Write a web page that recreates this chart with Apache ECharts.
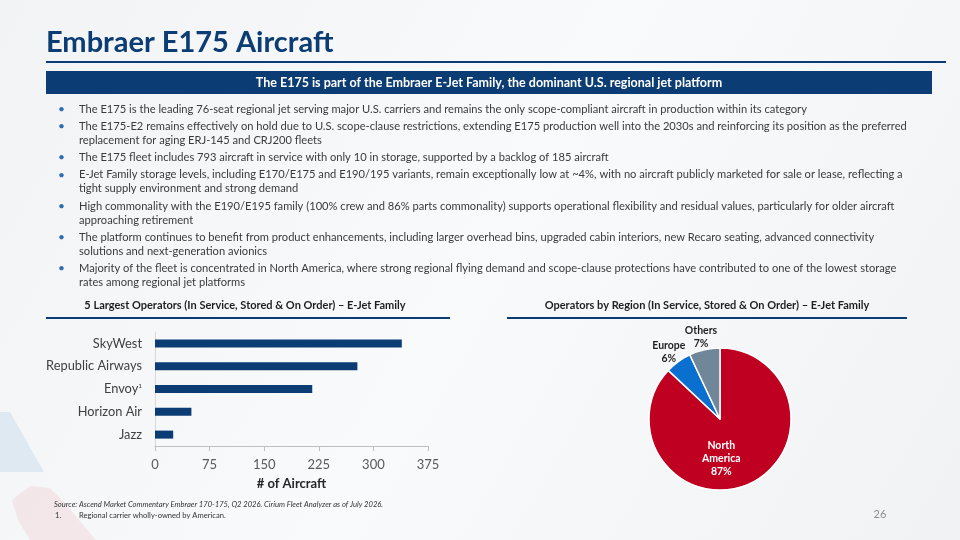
<!DOCTYPE html>
<html>
<head>
<meta charset="utf-8">
<script src="https://cdn.jsdelivr.net/npm/echarts@6/dist/echarts.min.js"></script>
<style>
  html, body { margin: 0; padding: 0; }
  #main { width: 960px; height: 540px; }
</style>
</head>
<body>
<div id="main"></div>
<script>
// data
const operators = ['SkyWest', 'Republic Airways', 'Envoy', 'Horizon Air', 'Jazz']
const operatorFleet = [339, 278, 216, 50, 25]
const xTicks = [0, 75, 150, 225, 300, 375]
const regions = ['North America', 'Europe', 'Others']
const regionShare = [87, 6, 7]
const regionColors = ['#c00020', '#0a6fcf', '#6f8798']

const bullets = [
  ['The E175 is the leading 76-seat regional jet serving major U.S. carriers and remains the only scope-compliant aircraft in production within its category'],
  ['The E175-E2 remains effectively on hold due to U.S. scope-clause restrictions, extending E175 production well into the 2030s and reinforcing its position as the preferred',
   'replacement for aging ERJ-145 and CRJ200 fleets'],
  ['The E175 fleet includes 793 aircraft in service with only 10 in storage, supported by a backlog of 185 aircraft'],
  ['E-Jet Family storage levels, including E170/E175 and E190/195 variants, remain exceptionally low at ~4%, with no aircraft publicly marketed for sale or lease, reflecting a',
   'tight supply environment and strong demand'],
  ['High commonality with the E190/E195 family (100% crew and 86% parts commonality) supports operational flexibility and residual values, particularly for older aircraft',
   'approaching retirement'],
  ['The platform continues to benefit from product enhancements, including larger overhead bins, upgraded cabin interiors, new Recaro seating, advanced connectivity',
   'solutions and next-generation avionics'],
  ['Majority of the fleet is concentrated in North America, where strong regional flying demand and scope-clause protections have contributed to one of the lowest storage',
   'rates among regional jet platforms']
]

const NAVY = '#0b3c73'
const FONT = 'Lato, "Open Sans", sans-serif'
const PIE_C = [720, 419]
const PIE_R = 71

// slide furniture as graphic elements
let graphics = [
  // faint decorative shapes bottom-left
  { type: 'polygon', shape: { points: [[0, 412], [10, 412], [44, 472], [0, 472]] },
    style: { fill: 'rgba(140,185,225,0.22)' }, silent: true },
  { type: 'polygon', shape: { points: [[12, 500], [30, 486], [50, 488], [62, 500], [96, 540], [30, 540], [18, 520]] },
    style: { fill: 'rgba(225,120,130,0.13)' }, silent: true },
  { type: 'text', x: 46, y: 43, style: { text: 'Embraer E175 Aircraft', font: 'bold 29px ' + FONT, fill: NAVY, verticalAlign: 'middle' } },
  { type: 'rect', shape: { x: 46, y: 61, width: 900, height: 2 }, style: { fill: NAVY } },
  { type: 'rect', shape: { x: 46, y: 71, width: 886, height: 23 }, style: { fill: NAVY } },
  { type: 'text', x: 489, y: 83, style: { text: 'The E175 is part of the Embraer E-Jet Family, the dominant U.S. regional jet platform', font: 'bold 12.5px ' + FONT, fill: '#fff', align: 'center', verticalAlign: 'middle' } },
  // chart headers
  { type: 'text', x: 245, y: 305, style: { text: '5 Largest Operators (In Service, Stored & On Order) \u2013 E-Jet Family', font: 'bold 11px ' + FONT, fill: '#1f1f1f', align: 'center', verticalAlign: 'middle' } },
  { type: 'rect', shape: { x: 46, y: 317, width: 404, height: 2 }, style: { fill: NAVY } },
  { type: 'text', x: 707, y: 305, style: { text: 'Operators by Region (In Service, Stored & On Order) \u2013 E-Jet Family', font: 'bold 11px ' + FONT, fill: '#1f1f1f', align: 'center', verticalAlign: 'middle' } },
  { type: 'rect', shape: { x: 507, y: 317, width: 400, height: 2 }, style: { fill: NAVY } },
  // footer
  { type: 'text', x: 54, y: 505, style: { text: 'Source: Ascend Market Commentary Embraer 170-175, Q2 2026. Cirium Fleet Analyzer as of July 2026.', font: 'italic 7.6px ' + FONT, fill: '#333', verticalAlign: 'middle' } },
  { type: 'text', x: 55, y: 516, style: { text: '1.', font: '7.6px ' + FONT, fill: '#333', verticalAlign: 'middle' } },
  { type: 'text', x: 79, y: 516, style: { text: 'Regional carrier wholly-owned by American.', font: '7.6px ' + FONT, fill: '#333', verticalAlign: 'middle' } },
  { type: 'text', x: 880, y: 514, style: { text: '26', font: '11px ' + FONT, fill: '#8c8c8c', align: 'center', verticalAlign: 'middle' } }
]

// bullet list
let y = 109
bullets.forEach(lines => {
  graphics.push({ type: 'text', x: 58, y: y, style: { text: '\u2022', font: '12px ' + FONT, fill: '#2e6db4', verticalAlign: 'middle' } })
  lines.forEach((line, i) => {
    graphics.push({ type: 'text', x: 79, y: y + i * 14.1, style: { text: line, font: '11.15px ' + FONT, fill: '#3a3a3a', verticalAlign: 'middle' } })
  })
  y += 14.1 * (lines.length - 1) + 17.2
})

// outside pie labels sit along the slice's mid angle
const total = regionShare.reduce((a, b) => a + b, 0)
function midAngle(i) {
  const before = regionShare.slice(0, i).reduce((a, b) => a + b, 0)
  return (90 - 360 * (before + regionShare[i] / 2) / total) * Math.PI / 180
}

const option = {
  backgroundColor: {
    type: 'linear', x: 0, y: 0, x2: 1, y2: 1,
    colorStops: [{ offset: 0, color: '#f2f3f5' }, { offset: 0.5, color: '#f9fafb' }, { offset: 1, color: '#f1f2f4' }]
  },
  textStyle: { fontFamily: FONT },
  animation: false,
  graphic: graphics,
  grid: { left: 155, top: 332, width: 273, height: 114 },
  xAxis: {
    type: 'value', min: xTicks[0], max: xTicks[xTicks.length - 1], interval: 75,
    axisLine: { show: true, lineStyle: { color: '#bfbfbf' } },
    axisTick: { show: true, length: 5, lineStyle: { color: '#bfbfbf' } },
    axisLabel: { fontSize: 13, color: '#595959', margin: 12 },
    splitLine: { show: false },
    name: '# of Aircraft', nameLocation: 'middle', nameGap: 31,
    nameTextStyle: { fontSize: 13, fontWeight: 'bold', color: '#262626' }
  },
  yAxis: {
    type: 'category', inverse: true, data: operators,
    axisLine: { show: true, lineStyle: { color: '#d9d9d9' } },
    axisTick: { show: false },
    axisLabel: {
      fontSize: 12.8, color: '#404040', margin: 13,
      formatter: v => v === 'Envoy' ? '{a|Envoy}{s|1}' : v,
      rich: { a: { fontSize: 12.8, color: '#404040' }, s: { fontSize: 6.5, color: '#404040', verticalAlign: 'top', padding: [0, 0, 6, 0] } }
    }
  },
  series: [
    {
      type: 'bar', data: operatorFleet, barWidth: 8,
      itemStyle: { color: NAVY }
    },
    {
      type: 'pie', center: PIE_C, radius: PIE_R, startAngle: 90, clockwise: true,
      data: regions.map((r, i) => ({
        name: r, value: regionShare[i], itemStyle: { color: regionColors[i] },
        label: i === 0
          ? { position: 'inside', color: '#fff', offset: [-14, 4] }
          : { position: 'outside', color: '#1f1f1f' }
      })),
      itemStyle: { borderColor: '#fff', borderWidth: 1.5 },
      label: {
        fontSize: 10.5, fontWeight: 'bold', lineHeight: 13,
        formatter: p => p.name.replace(' ', '\n') + '\n' + p.value + '%'
      },
      labelLine: { show: false, length: 6, length2: 0 },
      labelLayout: p => {
        if (p.dataIndex === 0) return {}
        const a = midAngle(p.dataIndex)
        const d = PIE_R + 16
        return { x: PIE_C[0] + d * Math.cos(a), y: PIE_C[1] - d * Math.sin(a) + 3, align: 'center', verticalAlign: 'middle' }
      }
    }
  ]
}

echarts.init(document.getElementById('main')).setOption(option)
</script>
</body>
</html>
